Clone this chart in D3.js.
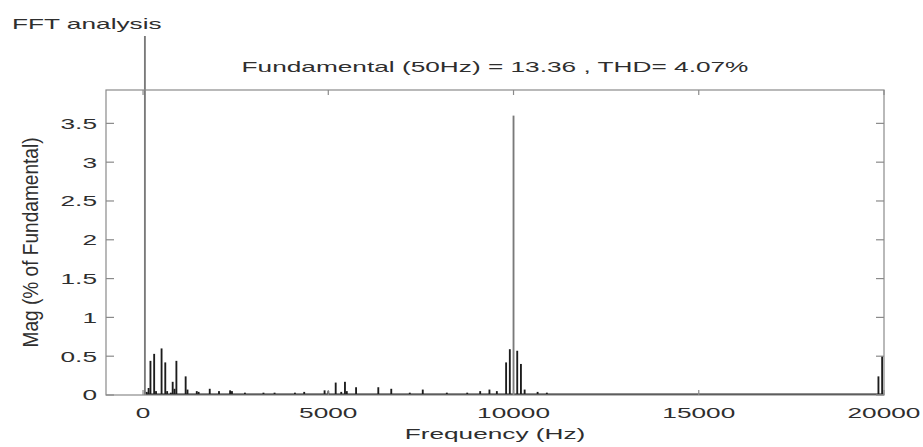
<!DOCTYPE html>
<meta charset="utf-8">
<script src="https://cdn.jsdelivr.net/npm/d3@7/dist/d3.min.js"></script>
<style>
  body { margin: 0; background: #fff; }
  text { font-family: "Liberation Sans", Arial, sans-serif; font-size: 15px; fill: #2e2e2e; }
</style>
<svg></svg>
<script>
// spectrum: frequency (Hz) and magnitude (% of fundamental)
var freqs = [50, 100, 150, 200, 300, 350, 500, 600, 650, 750, 800, 850, 900, 1150, 1200,
             1450, 1500, 1800, 2050, 2350, 2400, 2750, 3250, 3550, 4100, 4350, 4900, 5000,
             5200, 5350, 5450, 5500, 5750, 6350, 6700, 7200, 7550, 8200, 8750, 9100, 9350,
             9550, 9800, 9900, 10000, 10100, 10200, 10300, 10650, 10900, 19850, 19950];
var mags  = [100, 0.04, 0.09, 0.44, 0.53, 0.05, 0.60, 0.42, 0.05, 0.03, 0.17, 0.08, 0.44, 0.24, 0.07,
             0.05, 0.04, 0.08, 0.05, 0.06, 0.05, 0.03, 0.03, 0.03, 0.03, 0.04, 0.06, 0.05,
             0.16, 0.04, 0.17, 0.05, 0.10, 0.10, 0.08, 0.03, 0.07, 0.03, 0.03, 0.05, 0.07,
             0.05, 0.42, 0.59, 3.60, 0.57, 0.40, 0.07, 0.04, 0.03, 0.24, 0.50];

var xTicks = [0, 5000, 10000, 15000, 20000];
var yTicks = [0, 0.5, 1, 1.5, 2, 2.5, 3, 3.5];

var fundamental = 13.36, thd = 4.07;

var W = 923, H = 447;
var pLeft = 106, pRight = 884, pTop = 90, pBottom = 395;
var SX = 1.75; // the picture's text is stretched sideways

var svg = d3.select("svg").attr("width", W).attr("height", H);

var x = d3.scaleLinear().domain([-1000, 20000]).range([pLeft, pRight]);
var y = d3.scaleLinear().domain([0, 3.93]).range([pBottom, pTop]);

function label(px, py, str, anchor) {
  return svg.append("text")
    .attr("transform", "translate(" + px + "," + py + ") scale(" + SX + ",1)")
    .attr("text-anchor", anchor)
    .text(str);
}

// bars, clipped a bit above the axes like the original
svg.append("defs").append("clipPath").attr("id", "clip")
  .append("rect").attr("x", pLeft).attr("y", 36)
  .attr("width", pRight - pLeft).attr("height", pBottom - 36);

var barW = x(50) - x(0);
var data = freqs.map(function(f, i) { return {f: f, m: mags[i]}; });

var bars = svg.append("g").attr("clip-path", "url(#clip)");

// dark floor made by the many tiny bins
bars.append("line")
  .attr("x1", x(freqs[1])).attr("x2", x(20000))
  .attr("y1", y(0) - 0.5).attr("y2", y(0) - 0.5)
  .attr("stroke", "#1a1a1a").attr("stroke-width", 1.8);

bars.selectAll("rect").data(data).enter().append("rect")
  .attr("x", function(d) { return x(d.f) - barW / 2; })
  .attr("width", barW)
  .attr("y", function(d) { return y(d.m); })
  .attr("height", function(d) { return y(0) - y(d.m); })
  .attr("fill", function(d) { return d.m > 3 ? "#7a7a7a" : "#1c1c1c"; });

// box
svg.append("rect")
  .attr("x", pLeft).attr("y", pTop)
  .attr("width", pRight - pLeft).attr("height", pBottom - pTop)
  .attr("fill", "none").attr("stroke", "#8a8a8a").attr("stroke-width", 1.2);

// ticks, inside on all four sides
var tk = svg.append("g").attr("stroke", "#8a8a8a").attr("stroke-width", 1.2);
xTicks.forEach(function(t) {
  tk.append("line").attr("x1", x(t)).attr("x2", x(t)).attr("y1", pBottom).attr("y2", pBottom - 5);
  tk.append("line").attr("x1", x(t)).attr("x2", x(t)).attr("y1", pTop).attr("y2", pTop + 5);
});
yTicks.forEach(function(t) {
  tk.append("line").attr("x1", pLeft).attr("x2", pLeft + 8).attr("y1", y(t)).attr("y2", y(t));
  tk.append("line").attr("x1", pRight).attr("x2", pRight - 8).attr("y1", y(t)).attr("y2", y(t));
});

// tick labels
xTicks.forEach(function(t) { label(x(t), 418, d3.format("d")(t), "middle"); });
yTicks.forEach(function(t) { label(97, y(t) + 5.4, String(t), "end"); });

// titles
label(12, 29, "FFT analysis", "start");
label((pLeft + pRight) / 2, 72,
  "Fundamental (50Hz) = " + fundamental + " , THD= " + thd + "%", "middle");
label((pLeft + pRight) / 2, 439, "Frequency (Hz)", "middle");

svg.append("text")
  .attr("transform", "translate(38," + (pTop + pBottom) / 2 + ") rotate(-90) scale(1,1.45)")
  .attr("text-anchor", "middle")
  .attr("font-size", 19)
  .attr("textLength", 210)
  .attr("lengthAdjust", "spacingAndGlyphs")
  .text("Mag (% of Fundamental)");
</script>
